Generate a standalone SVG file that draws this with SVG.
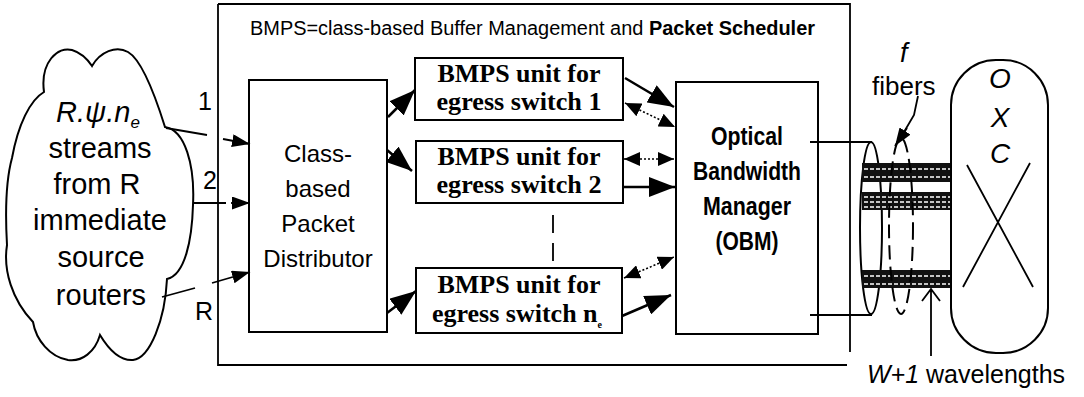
<svg xmlns="http://www.w3.org/2000/svg" width="1084" height="397" viewBox="0 0 1084 397">
  <style>
    .box { fill: #fff; stroke: #000; stroke-width: 2; }
    .sans { font-family: "Liberation Sans", Arial, sans-serif; fill: #000; }
    .serif { font-family: "Liberation Serif", "Times New Roman", serif; font-weight: bold; fill: #000; font-size: 26px; text-anchor: middle; }
    .solid { stroke: #000; stroke-width: 2.5; fill: none; }
    .dotted { stroke: #000; stroke-width: 1.6; stroke-dasharray: 2 2; fill: none; }
    .thin { stroke: #000; stroke-width: 1.8; fill: none; }
    .band { fill: #111; }
    .speck { stroke: #fff; stroke-width: 1.4; stroke-dasharray: 4 2; fill: none; }
  </style>
  <defs>
    <marker id="big" viewBox="0 0 26 20" refX="26" refY="10" markerWidth="26" markerHeight="20" markerUnits="userSpaceOnUse" orient="auto">
      <path d="M0,0 L26,10 L0,20 Z" fill="#000"/>
    </marker>
    <marker id="mid" viewBox="0 0 16 14" refX="16" refY="7" markerWidth="16" markerHeight="14" markerUnits="userSpaceOnUse" orient="auto-start-reverse">
      <path d="M0,0 L16,7 L0,14 Z" fill="#000"/>
    </marker>
    <marker id="small" viewBox="0 0 18 13" refX="18" refY="6.5" markerWidth="18" markerHeight="13" markerUnits="userSpaceOnUse" orient="auto">
      <path d="M0,0 L18,6.5 L0,13 Z" fill="#000"/>
    </marker>
  </defs>
  <rect width="1084" height="397" fill="#fff"/>

  <!-- enclosing BMPS frame (open at the lower right corner) -->
  <g id="frame">
    <path d="M218,4 H850 V352" class="thin" stroke-width="2"/>
    <path d="M218,4 V365 H847" class="thin" stroke-width="2"/>
    <text class="sans" x="250" y="35" font-size="20" textLength="565" lengthAdjust="spacingAndGlyphs">BMPS=class-based Buffer Management and <tspan font-weight="bold">Packet Scheduler</tspan></text>
  </g>

  <!-- source cloud -->
  <g id="cloud">
    <path class="box" d="M44,92 C40,62 58,46 72,50 C82,53 88,60 92,66 C100,52 116,45 128,52 C142,60 155,95 165,127 C185,130 195,165 193,205 C192,240 185,275 167,279 C165,320 150,358 133,360 C118,361 106,345 100,335 C95,352 82,362 68,360 C50,357 36,340 33,322 C12,300 3,270 7,245 C5,210 6,180 12,158 C18,125 30,100 44,92 Z"/>
    <g class="sans" font-size="29" text-anchor="middle">
      <text x="98" y="122" font-style="italic">R.ψ.n<tspan font-size="17" dy="6">e</tspan></text>
      <text x="100" y="158">streams</text>
      <text x="97" y="194">from R</text>
      <text x="100" y="230">immediate</text>
      <text x="101" y="267">source</text>
      <text x="101" y="305">routers</text>
    </g>
  </g>

  <!-- input labels -->
  <g id="input-labels" class="sans" font-size="25">
    <text x="198" y="110">1</text>
    <text x="203" y="189">2</text>
    <text x="195" y="320">R</text>
  </g>

  <g id="distributor">
    <rect class="box" x="249" y="80" width="138" height="252"/>
    <g class="sans" font-size="24" text-anchor="middle">
      <text x="318" y="162">Class-</text>
      <text x="318" y="197">based</text>
      <text x="318" y="232">Packet</text>
      <text x="318" y="267">Distributor</text>
    </g>
  </g>

  <g id="bmps-1">
    <rect class="box" x="415" y="58" width="208" height="62"/>
    <text class="serif" x="519" y="82" textLength="163" lengthAdjust="spacingAndGlyphs">BMPS unit for</text>
    <text class="serif" x="519" y="110" textLength="165" lengthAdjust="spacingAndGlyphs">egress switch 1</text>
  </g>

  <g id="bmps-2">
    <rect class="box" x="416" y="141" width="207" height="62"/>
    <text class="serif" x="519" y="165" textLength="163" lengthAdjust="spacingAndGlyphs">BMPS unit for</text>
    <text class="serif" x="519" y="193" textLength="165" lengthAdjust="spacingAndGlyphs">egress switch 2</text>
  </g>

  <g id="bmps-n">
    <rect class="box" x="416" y="268" width="206" height="65"/>
    <text class="serif" x="519" y="293" textLength="163" lengthAdjust="spacingAndGlyphs">BMPS unit for</text>
    <text class="serif" x="517" y="322">egress switch n<tspan font-size="10" dy="6">e</tspan></text>
  </g>

  <g id="obm">
    <rect class="box" x="676" y="82" width="142" height="252"/>
    <g class="sans" font-size="26" font-weight="bold" text-anchor="middle">
      <text x="747" y="145" textLength="72" lengthAdjust="spacingAndGlyphs">Optical</text>
      <text x="747" y="180" textLength="108" lengthAdjust="spacingAndGlyphs">Bandwidth</text>
      <text x="747" y="215" textLength="88" lengthAdjust="spacingAndGlyphs">Manager</text>
      <text x="747" y="250" textLength="63" lengthAdjust="spacingAndGlyphs">(OBM)</text>
    </g>
  </g>

  <!-- fibre bundle between OBM and OXC -->
  <g id="fibers">
    <ellipse cx="871" cy="228" rx="11" ry="86" fill="none" stroke="#000" stroke-width="2"/>
    <rect class="band" x="862" y="163" width="98" height="19"/>
    <path class="speck" d="M864,169 H958 M864,177 H958"/>
    <rect class="band" x="862" y="192" width="98" height="18"/>
    <path class="speck" d="M864,197 H958 M864,202 H958 M864,207 H958"/>
    <rect class="band" x="862" y="270" width="98" height="18"/>
    <path class="speck" d="M864,276 H958 M864,284 H958"/>
    <ellipse cx="901" cy="226" rx="12" ry="88" fill="none" stroke="#000" stroke-width="2" stroke-dasharray="14 7"/>
    <text class="sans" x="900" y="62" font-size="27" font-style="italic">f</text>
    <text class="sans" x="872" y="95" font-size="26">fibers</text>
    <text class="sans" x="867" y="383" font-size="25"><tspan font-style="italic">W+1</tspan> wavelengths</text>
  </g>

  <g id="oxc">
    <rect class="box" x="951" y="60" width="97" height="293" rx="45" ry="45"/>
    <path class="thin" d="M967,165 L1033,287 M1030,163 L963,287" stroke-width="1.8"/>
    <g class="sans" font-size="28" font-style="italic" text-anchor="middle">
      <text x="1000" y="88">O</text>
      <text x="1000" y="127">X</text>
      <text x="1000" y="163">C</text>
    </g>
  </g>

  <g id="connectors">
    <!-- cloud to distributor -->
    <path class="thin" d="M166,128 L207,135"/>
    <line class="thin" x1="223" y1="139" x2="250" y2="144" marker-end="url(#small)"/>
    <path class="thin" d="M193,203 H226"/>
    <line class="thin" x1="231" y1="203" x2="250" y2="203" marker-end="url(#small)"/>
    <path class="thin" d="M162,297 L195,288"/>
    <line class="thin" x1="212" y1="283" x2="250" y2="272" marker-end="url(#small)"/>

    <!-- distributor to BMPS units -->
    <line class="solid" x1="388" y1="117" x2="415" y2="90" marker-end="url(#big)"/>
    <line class="solid" x1="387" y1="150" x2="412" y2="171" marker-end="url(#big)"/>
    <line class="solid" x1="387" y1="313" x2="416" y2="291" marker-end="url(#big)"/>

    <!-- BMPS units to OBM -->
    <line class="solid" x1="625" y1="78" x2="674" y2="107" marker-end="url(#big)"/>
    <line class="dotted" x1="625" y1="103" x2="675" y2="127" marker-start="url(#mid)" marker-end="url(#mid)"/>
    <line class="dotted" x1="624" y1="159" x2="674" y2="159" marker-start="url(#mid)" marker-end="url(#mid)"/>
    <line class="solid" x1="624" y1="187" x2="675" y2="187" marker-end="url(#big)"/>
    <line class="dotted" x1="624" y1="278" x2="674" y2="257" marker-start="url(#mid)" marker-end="url(#mid)"/>
    <line class="solid" x1="622" y1="316" x2="671" y2="295" marker-end="url(#big)"/>

    <!-- continuation between BMPS 2 and BMPS n -->
    <path class="thin" d="M553,215 V233 M553,243 V261" stroke-width="1.5"/>

    <!-- OBM to fibre bundle -->
    <path class="thin" d="M810,142 H872 M810,315 H872" stroke-width="2"/>

    <!-- fibre pointer -->
    <path class="thin" d="M918,96 L914,115 L904,132" stroke-width="2"/>
    <line class="thin" x1="907" y1="128" x2="895" y2="146" stroke-width="2" marker-end="url(#small)"/>

    <!-- wavelength pointer -->
    <path class="thin" d="M931,356 V289 M922,301 L931,289 L940,301" stroke-width="2"/>
  </g>
</svg>
